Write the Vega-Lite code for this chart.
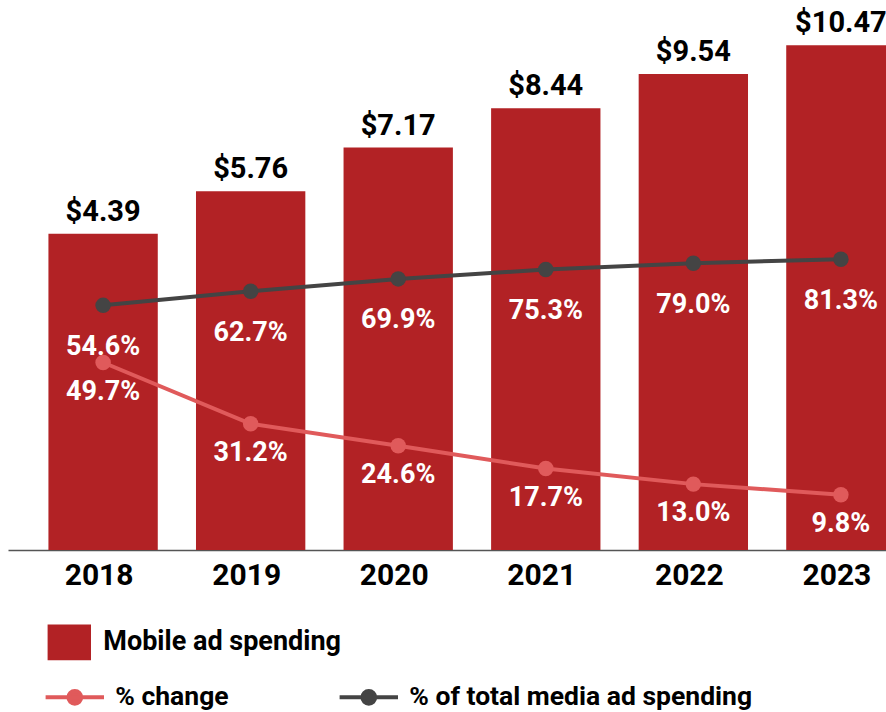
{
  "$schema": "https://vega.github.io/schema/vega-lite/v6.json",
  "width": 878,
  "height": 550,
  "autosize": {"type": "none"},
  "padding": {"left": 8, "top": 0, "right": 0, "bottom": 162},
  "background": "white",
  "config": {"view": {"stroke": null}, "font": "Roboto"},
  "data": {
    "values": [
      {"year": "2018", "spend": 4.39, "change": 49.7, "share": 54.6},
      {"year": "2019", "spend": 5.76, "change": 31.2, "share": 62.7},
      {"year": "2020", "spend": 7.17, "change": 24.6, "share": 69.9},
      {"year": "2021", "spend": 8.44, "change": 17.7, "share": 75.3},
      {"year": "2022", "spend": 9.54, "change": 13.0, "share": 79.0},
      {"year": "2023", "spend": 10.47, "change": 9.8, "share": 81.3}
    ]
  },
  "encoding": {
    "x": {
      "field": "year",
      "type": "nominal",
      "scale": {"range": [0, 928], "paddingInner": 0.259, "paddingOuter": 0.274},
      "axis": {
        "title": null,
        "labelAngle": 0,
        "ticks": false,
        "tickSize": 0,
        "grid": false,
        "domainColor": "#555555",
        "domainWidth": 1.5,
        "labelFont": "Roboto",
        "labelFontWeight": "bold",
        "labelFontSize": 30,
        "labelColor": "#000000",
        "labelBaseline": "alphabetic",
        "labelPadding": 34,
        "labelOffset": -4
      }
    }
  },
  "layer": [
    {
      "layer": [
        {
          "mark": {"type": "bar"},
          "encoding": {
            "y": {"field": "spend", "type": "quantitative", "scale": {"domain": [-5.81, 11.93], "nice": false, "zero": false}, "axis": null},
            "y2": {"datum": -5.81},
            "fill": {
              "datum": "Mobile ad spending",
              "type": "nominal",
              "scale": {"range": ["#B22225"]},
              "legend": {
                "orient": "none",
                "legendX": 39.3,
                "legendY": 620.3,
                "title": null,
                "padding": 0,
                "symbolType": "M-1,-0.823H1V0.823H-1Z",
                "symbolSize": 1884,
                "symbolStrokeWidth": 0,
                "symbolOpacity": 1,
                "labelFont": "Roboto",
                "labelFontWeight": "bold",
                "labelFontSize": 27,
                "labelColor": "#000000",
                "labelOffset": 12,
                "labelLimit": 500
              }
            }
          }
        },
        {
          "mark": {"type": "text", "font": "Roboto", "fontWeight": "bold", "fontSize": 29, "color": "#000000", "baseline": "alphabetic", "dy": -13},
          "encoding": {
            "y": {"field": "spend", "type": "quantitative"},
            "text": {"field": "spend", "type": "quantitative", "format": "$.2f"}
          }
        }
      ]
    },
    {
      "layer": [
        {
          "mark": {"type": "line", "strokeWidth": 4},
          "encoding": {
            "y": {"field": "share", "type": "quantitative", "scale": {"domain": [-86.8, 231.1], "nice": false, "zero": false}, "axis": null},
            "stroke": {
              "datum": "% of total media ad spending",
              "type": "nominal",
              "scale": {"domain": ["% change", "% of total media ad spending"], "range": ["#E05A5B", "#444444"]},
              "legend": {
                "orient": "none",
                "legendX": 35.3,
                "legendY": 665.8,
                "title": null,
                "padding": 0,
                "direction": "horizontal",
                "columns": 2,
                "columnPadding": 102,
                "symbolType": "M-1,0H1M-0.22,0A0.22,0.22,0,1,0,0.22,0A0.22,0.22,0,1,0,-0.22,0Z",
                "symbolSize": 3411,
                "symbolStrokeWidth": 4,
                "symbolOpacity": 1,
                "labelFont": "Roboto",
                "labelFontWeight": "bold",
                "labelFontSize": 26.5,
                "labelColor": "#000000",
                "labelOffset": 9,
                "labelLimit": 500,
                "encode": {"symbols": {"update": {"fill": {"scale": "stroke", "field": "value"}}}}
              }
            }
          }
        },
        {
          "mark": {"type": "circle", "size": 240, "color": "#444444", "opacity": 1},
          "encoding": {"y": {"field": "share", "type": "quantitative"}}
        },
        {
          "mark": {"type": "text", "font": "Roboto", "fontWeight": "bold", "fontSize": 27, "color": "#FFFFFF", "baseline": "middle", "dy": 41.6, "text": {"expr": "format(datum.share, '.1f') + '%'"}},
          "encoding": {"y": {"field": "share", "type": "quantitative"}}
        }
      ]
    },
    {
      "layer": [
        {
          "mark": {"type": "line", "strokeWidth": 4},
          "encoding": {
            "y": {"field": "change", "type": "quantitative", "scale": {"domain": [-6.88, 159.1], "nice": false, "zero": false}, "axis": null},
            "stroke": {"datum": "% change", "type": "nominal"}
          }
        },
        {
          "mark": {"type": "circle", "size": 240, "color": "#E05A5B", "opacity": 1},
          "encoding": {"y": {"field": "change", "type": "quantitative"}}
        },
        {
          "mark": {"type": "text", "font": "Roboto", "fontWeight": "bold", "fontSize": 27, "color": "#FFFFFF", "baseline": "middle", "dy": 29, "text": {"expr": "format(datum.change, '.1f') + '%'"}},
          "encoding": {"y": {"field": "change", "type": "quantitative"}}
        }
      ]
    }
  ],
  "resolve": {"scale": {"y": "independent"}}
}
